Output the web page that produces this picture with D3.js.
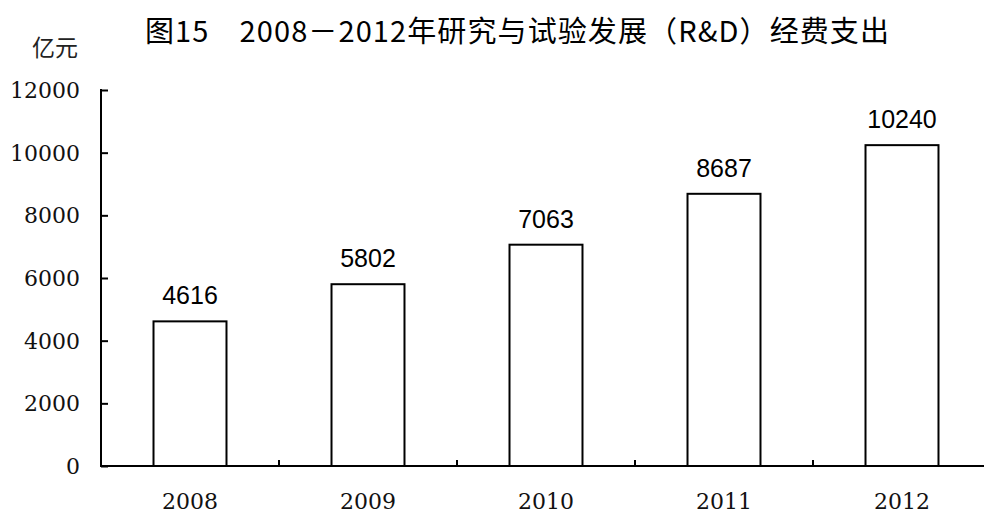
<!DOCTYPE html>
<html><head><meta charset="utf-8">
<script src="https://cdn.jsdelivr.net/npm/d3@7"></script>
<style>body{margin:0;background:#fff}svg{display:block}</style>
</head><body>
<svg id="c" width="984" height="514"></svg>
<script>
const years = ["2008","2009","2010","2011","2012"];
const spending = [4616, 5802, 7063, 8687, 10240];
const yTicks = [0, 2000, 4000, 6000, 8000, 10000, 12000];
const titleText = "图15　2008－2012年研究与试验发展（R&D）经费支出";
const unitText = "亿元";

(function(){
const svg = d3.select("#c");
const pLeft = 101, pRight = 991, pTop = 90, pBottom = 466;
const x = d3.scaleBand().domain(years).range([pLeft, pRight]).paddingInner(0.59).paddingOuter(0.295);
const y = d3.scaleLinear().domain([0, 12000]).range([pBottom, pTop]);

svg.append("rect").attr("width",984).attr("height",514).attr("fill","#fff");

// title
svg.append("text").attr("x", 145).attr("y", 42)
  .attr("font-family","'Noto Sans CJK SC', sans-serif").attr("font-size",29)
  .attr("letter-spacing",1.1)
  .attr("fill","#000").text(titleText);
svg.append("text").attr("x", 32).attr("y", 56)
  .attr("font-family","'Noto Sans CJK SC', sans-serif").attr("font-size",23)
  .attr("fill","#222").text(unitText);

// y axis
const yAxis = svg.append("g").attr("transform",`translate(${pLeft},0)`)
  .call(d3.axisRight(y).tickValues(yTicks).tickSize(7).tickFormat(""));
yAxis.select(".domain").remove();
yAxis.selectAll(".tick line").attr("stroke","#000").attr("stroke-width",2);
svg.append("line").attr("x1",pLeft).attr("x2",pLeft).attr("y1",pTop-1).attr("y2",pBottom+1)
  .attr("stroke","#000").attr("stroke-width",2);
svg.append("g").selectAll("text").data(yTicks).join("text")
  .attr("x", 80).attr("y", d => y(d)).attr("dy","0.36em").attr("text-anchor","end")
  .attr("font-family","'DejaVu Serif', serif").attr("font-size",22).attr("fill","#111")
  .text(d => d);

// bars
svg.append("g").selectAll("rect").data(spending).join("rect")
  .attr("x",(d,i)=>x(years[i])).attr("y",d=>y(d))
  .attr("width",x.bandwidth()).attr("height",d=>pBottom-y(d))
  .attr("fill","#fff").attr("stroke","#000").attr("stroke-width",2);

// x axis
svg.append("line").attr("x1",pLeft).attr("x2",984).attr("y1",pBottom).attr("y2",pBottom)
  .attr("stroke","#000").attr("stroke-width",2);
const step = x.step();
svg.append("g").selectAll("line").data(years).join("line")
  .attr("x1",d=>x(d)+x.bandwidth()+step*x.paddingInner()/2)
  .attr("x2",d=>x(d)+x.bandwidth()+step*x.paddingInner()/2)
  .attr("y1",pBottom).attr("y2",pBottom-6).attr("stroke","#000").attr("stroke-width",2);
svg.append("g").selectAll("text").data(years).join("text")
  .attr("x",d=>x(d)+x.bandwidth()/2).attr("y",509).attr("text-anchor","middle")
  .attr("font-family","'DejaVu Serif', serif").attr("font-size",22).attr("fill","#111")
  .text(d=>d);

// value labels
svg.append("g").selectAll("text").data(spending).join("text")
  .attr("x",(d,i)=>x(years[i])+x.bandwidth()/2).attr("y",d=>y(d)-17).attr("text-anchor","middle")
  .attr("font-family","'Liberation Sans', Arial, sans-serif").attr("font-size",25).attr("fill","#000")
  .text(d=>d);
})();
</script>
</body></html>
